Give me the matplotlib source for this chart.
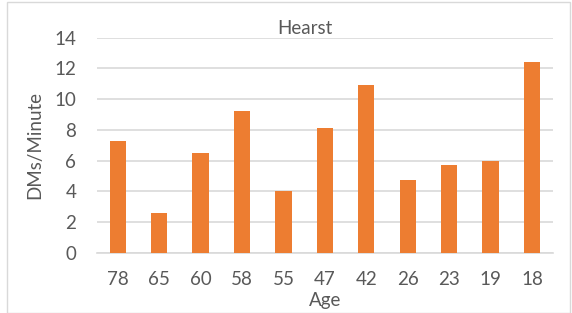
import matplotlib
matplotlib.use('Agg')
import matplotlib.pyplot as plt
from matplotlib.patches import Rectangle

# Data
ages = ['78', '65', '60', '58', '55', '47', '42', '26', '23', '19', '18']
dms_per_minute = [7.3, 2.6, 6.5, 9.2, 4.0, 8.1, 10.9, 4.7, 5.7, 6.0, 12.4]
y_ticks = [0, 2, 4, 6, 8, 10, 12, 14]

BAR_COLOR = '#ED7D31'
TEXT_COLOR = '#595959'
GRID_COLOR = '#D9D9D9'

plt.rcParams['font.family'] = ['Lato', 'DejaVu Sans']

W, H = 572, 313
fig = plt.figure(figsize=(W / 100, H / 100), dpi=100)
fig.patch.set_facecolor('white')

# Light grey chart border
fig.patches.append(Rectangle((7 / W, 0.5 / H), (570 - 7) / W, (311 - 0.5) / H,
                             transform=fig.transFigure, fill=False,
                             edgecolor=GRID_COLOR, linewidth=1))

ax = fig.add_axes([97 / W, 1 - 252.6 / H, (552.7 - 97) / W, (252.6 - 37.7) / H])
x = range(len(ages))
ax.bar(x, dms_per_minute, width=0.39, color=BAR_COLOR, zorder=3)

ax.set_xlim(-0.5, len(ages) - 0.5)
ax.set_ylim(0, 14)
ax.set_yticks(y_ticks)
ax.set_xticks(list(x))
ax.set_xticklabels(ages)

ax.grid(axis='y', color=GRID_COLOR, linewidth=1.2, zorder=0)
ax.set_axisbelow(True)
for side in ['top', 'right', 'left']:
    ax.spines[side].set_visible(False)
ax.spines['bottom'].set_color(GRID_COLOR)
ax.spines['bottom'].set_linewidth(1.2)

FS = 13.5
ax.tick_params(axis='both', length=0, labelsize=FS, labelcolor=TEXT_COLOR)
ax.tick_params(axis='y', pad=15)
ax.tick_params(axis='x', pad=13)

ax.set_xlabel('Age', fontsize=FS, color=TEXT_COLOR, labelpad=3)
ax.set_ylabel('DMs/Minute', fontsize=FS, color=TEXT_COLOR, labelpad=8)

fig.text(305 / W, 1 - 28 / H, 'Hearst', ha='center', va='center',
         fontsize=FS, color=TEXT_COLOR)

fig.savefig('out.png', dpi=100)
